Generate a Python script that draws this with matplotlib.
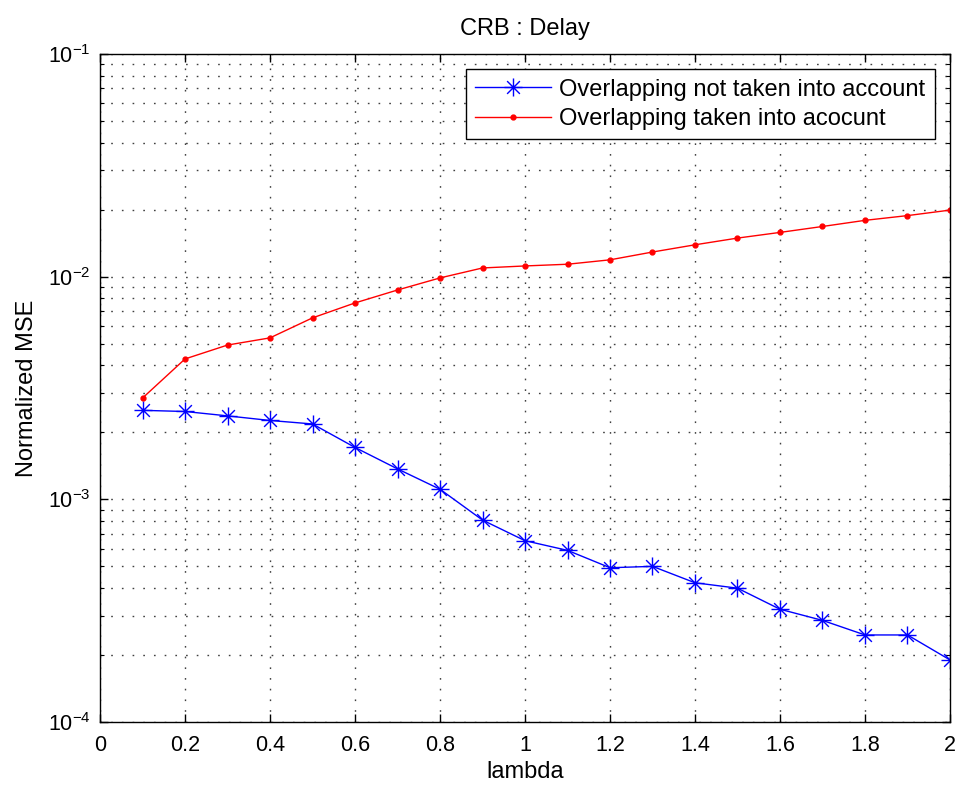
import numpy as np
import matplotlib
matplotlib.use("Agg")
import matplotlib.pyplot as plt
from matplotlib.path import Path
from matplotlib.ticker import LogLocator, FixedLocator, NullFormatter, FuncFormatter

plt.rcParams['font.family'] = ['Liberation Sans', 'DejaVu Sans']
plt.rcParams['mathtext.fontset'] = 'custom'
plt.rcParams['mathtext.rm'] = 'Liberation Sans'
plt.rcParams['lines.scale_dashes'] = False

# lambda values
lam = [0.1, 0.2, 0.3, 0.4, 0.5, 0.6, 0.7, 0.8, 0.9, 1.0,
       1.1, 1.2, 1.3, 1.4, 1.5, 1.6, 1.7, 1.8, 1.9, 2.0]

# normalized MSE, overlapping not taken into account
mse_no_overlap = [2.51e-3, 2.48e-3, 2.37e-3, 2.26e-3, 2.18e-3, 1.71e-3, 1.37e-3,
                  1.11e-3, 8.07e-4, 6.52e-4, 5.90e-4, 4.93e-4, 5.00e-4, 4.22e-4,
                  3.99e-4, 3.21e-4, 2.86e-4, 2.46e-4, 2.46e-4, 1.90e-4]

# normalized MSE, overlapping taken into account
mse_overlap = [2.85e-3, 4.27e-3, 4.93e-3, 5.31e-3, 6.53e-3, 7.62e-3, 8.71e-3,
               9.87e-3, 1.094e-2, 1.117e-2, 1.137e-2, 1.19e-2, 1.29e-2, 1.39e-2,
               1.49e-2, 1.58e-2, 1.68e-2, 1.79e-2, 1.88e-2, 1.99e-2]

x_ticks = [0, 0.2, 0.4, 0.6, 0.8, 1, 1.2, 1.4, 1.6, 1.8, 2]
x_ticklabels = ['0', '0.2', '0.4', '0.6', '0.8', '1', '1.2', '1.4', '1.6', '1.8', '2']

# matlab-like asterisk: vertical, horizontal and two diagonals
d = 0.7071
asterisk = Path([(0, -1), (0, 1), (-1, 0), (1, 0),
                 (-d, -d), (d, d), (-d, d), (d, -d)],
                [Path.MOVETO, Path.LINETO] * 4)

fig = plt.figure(figsize=(9.59, 7.89), dpi=100)
ax = fig.add_axes([0.1043, 0.0849, 0.8863, 0.8467])

ax.plot(lam, mse_no_overlap, color='#0000ff', marker=asterisk, markersize=13,
        markeredgewidth=1.0, markerfacecolor='none', linewidth=1.0,
        label='Overlapping not taken into account')
ax.plot(lam, mse_overlap, color='#ff0000', marker='.', markersize=7,
        linewidth=1.0, label='Overlapping taken into acocunt')

ax.set_yscale('log')
ax.set_xlim(0, 2)
ax.set_ylim(1e-4, 1e-1)
ax.xaxis.set_major_locator(FixedLocator(x_ticks))
ax.set_xticklabels(x_ticklabels)
ax.yaxis.set_major_locator(LogLocator(base=10, numticks=10))
ax.yaxis.set_major_formatter(FuncFormatter(
    lambda v, p: r'$10^{%d}$' % int(round(np.log10(v))) if v > 0 else ''))
ax.yaxis.set_minor_locator(LogLocator(base=10, subs=np.arange(2, 10), numticks=20))
ax.yaxis.set_minor_formatter(NullFormatter())

grid_style = dict(linestyle=(0, (1.2, 6.5)), color='#404040', linewidth=1.0)
ax.grid(True, which='major', **grid_style)
ax.grid(True, which='minor', axis='y', **grid_style)

ax.tick_params(which='both', direction='in', top=True, right=True, labelsize=15.5)
ax.tick_params(axis='x', which='major', pad=9)
ax.tick_params(axis='y', which='major', pad=7)
ax.tick_params(which='major', length=6, width=1)
ax.tick_params(which='minor', length=3, width=0.8)
for s in ax.spines.values():
    s.set_linewidth(1.0)

ax.set_title('CRB : Delay', fontsize=17, pad=14)
ax.set_xlabel('lambda', fontsize=17, labelpad=4)
ax.set_ylabel('Normalized MSE', fontsize=17, labelpad=7)

leg = ax.legend(loc='upper right', fontsize=17, fancybox=False, framealpha=1,
                edgecolor='black', borderaxespad=0.65, handlelength=3.2,
                borderpad=0.4, labelspacing=0.3, handletextpad=0.35)
leg.get_frame().set_linewidth(1.0)

fig.savefig('out.png', dpi=100)
